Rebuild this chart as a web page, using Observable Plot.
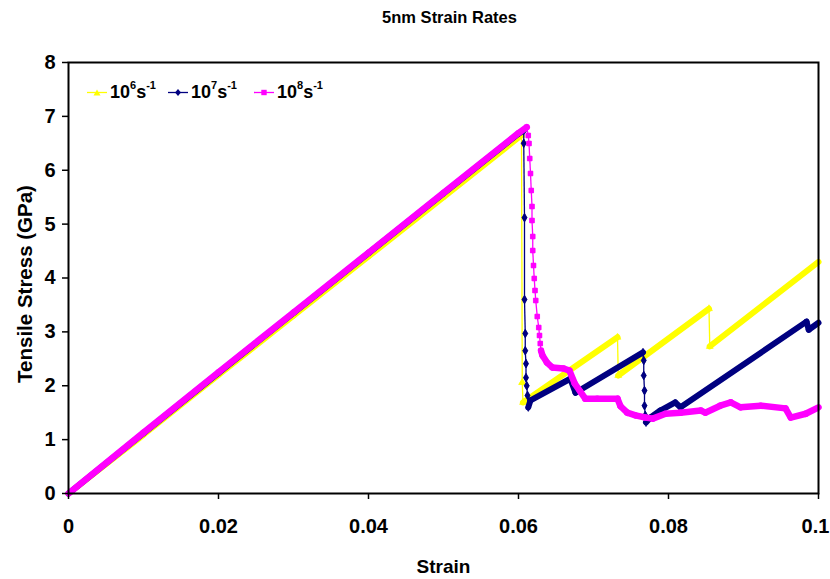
<!DOCTYPE html>
<html>
<head>
<meta charset="utf-8">
<script src="https://cdn.jsdelivr.net/npm/d3@7"></script>
<script src="https://cdn.jsdelivr.net/npm/@observablehq/plot@0.6"></script>
<style>
  body { margin: 0; background: #fff; }
  #wrap { position: relative; width: 830px; height: 579px; font-family: "Liberation Sans", Arial, sans-serif; }
  .item { position: absolute; top: 81px; height: 22px; display: flex; align-items: center; font-weight: bold; font-size: 18px; color: #000; white-space: nowrap; }
  .item svg { margin-right: 3px; }
  .item sup { font-size: 11px; position: relative; top: -2px; }
</style>
</head>
<body>
<div id="wrap"><div id="chart"></div></div>
<script>
// ---- data ----
const xTicks = [0, 0.02, 0.04, 0.06, 0.08, 0.1];
const yTicks = [0, 1, 2, 3, 4, 5, 6, 7, 8];
const seriesExponents = [6, 7, 8]; // strain rates 10^6, 10^7, 10^8 s^-1

const rate6Strain = [0, 0.01, 0.02, 0.03, 0.04, 0.05, 0.0604, 0.0605, 0.0606, 0.0732, 0.0733, 0.0854, 0.0855, 0.1];
const rate6Stress = [0, 1.09, 2.2, 3.3, 4.4, 5.5, 6.65, 2.06, 1.69, 2.9, 2.19, 3.43, 2.73, 4.3];

const rate7Strain = [0, 0.01, 0.02, 0.03, 0.04, 0.05, 0.06, 0.0607, 0.0607, 0.0608, 0.0608, 0.0609, 0.0609, 0.061, 0.061, 0.0611, 0.0612, 0.0613,
  0.0616, 0.0669, 0.0676, 0.0766, 0.0767, 0.0767, 0.0768, 0.0768, 0.0769, 0.077,
  0.0776, 0.0789, 0.0809, 0.0816, 0.0984, 0.0987, 0.1];
const rate7Stress = [0, 1.12, 2.24, 3.35, 4.46, 5.57, 6.68, 6.74, 6.5, 5.12, 3.6, 2.97, 2.65, 2.41, 2.15, 2.0, 1.82, 1.6,
  1.73, 2.13, 1.87, 2.62, 2.47, 2.19, 1.91, 1.63, 1.45, 1.32,
  1.41, 1.54, 1.69, 1.6, 3.19, 3.04, 3.17];

const rate8Strain = [0, 0.01, 0.02, 0.03, 0.04, 0.05, 0.06, 0.0611,
  0.0613, 0.0614, 0.0615, 0.0616, 0.0617, 0.0618, 0.0618, 0.0619, 0.0619, 0.062, 0.0621, 0.0622, 0.0623, 0.0625, 0.0627, 0.0628, 0.0629, 0.063,
  0.0632, 0.0638, 0.0645, 0.066, 0.0668, 0.0675, 0.0682, 0.0689, 0.0705, 0.0732, 0.0736, 0.0745, 0.0756, 0.0769, 0.0779,
  0.0796, 0.0816, 0.0843, 0.0849, 0.0869, 0.0883, 0.0896, 0.0923, 0.0956, 0.0963, 0.0983, 0.1];
const rate8Stress = [0, 1.13, 2.25, 3.36, 4.47, 5.58, 6.69, 6.8,
  6.645, 6.497, 6.218, 5.94, 5.624, 5.327, 5.067, 4.77, 4.51, 4.232, 3.991, 3.768, 3.582, 3.285, 3.081, 2.933, 2.784, 2.654,
  2.56, 2.43, 2.34, 2.32, 2.28, 2.04, 1.9, 1.76, 1.76, 1.76, 1.62, 1.5, 1.45, 1.41, 1.39,
  1.48, 1.5, 1.54, 1.5, 1.63, 1.69, 1.6, 1.63, 1.58, 1.41, 1.48, 1.6];

// ---- styles ----
const colors = ["#FFFF00", "#000080", "#FF00FF"];
const symbols = ["triangle", "diamond", "square"];
const bandWidths = [6, 6, 6.5];
const series = [
  {strain: rate6Strain, stress: rate6Stress},
  {strain: rate7Strain, stress: rate7Stress},
  {strain: rate8Strain, stress: rate8Stress}
];

const marks = [];
series.forEach((s, i) => {
  const pts = d3.zip(s.strain, s.stress);
  const segs = d3.pairs(pts).map(([a, b]) => ({
    x1: a[0], y1: a[1], x2: b[0], y2: b[1],
    fast: Math.abs(b[1] - a[1]) > 600 * Math.abs(b[0] - a[0])
  }));
  const slow = segs.filter(d => !d.fast);
  const fast = segs.filter(d => d.fast);
  marks.push(Plot.link(slow, {x1: "x1", y1: "y1", x2: "x2", y2: "y2", stroke: colors[i], strokeWidth: bandWidths[i], strokeLinecap: "round", strokeLinejoin: "round"}));
  marks.push(Plot.link(fast, {x1: "x1", y1: "y1", x2: "x2", y2: "y2", stroke: colors[i], strokeWidth: 1.3}));
  const dotPts = [];
  fast.forEach(d => { dotPts.push([d.x1, d.y1]); dotPts.push([d.x2, d.y2]); });
  marks.push(Plot.dot(dotPts, {x: d => d[0], y: d => d[1], symbol: symbols[i], r: 2.6, fill: colors[i], stroke: colors[i], strokeWidth: 0.5}));
});

const lastX = xTicks[xTicks.length - 1];

const chart = Plot.plot({
  width: 830,
  height: 579,
  marginTop: 62,
  marginRight: 12,
  marginBottom: 86,
  marginLeft: 68,
  x: {domain: [0, 0.1]},
  y: {domain: [0, 8]},
  style: {fontFamily: "'Liberation Sans', Arial, sans-serif", fontSize: "20px", fontWeight: "bold", color: "black", background: "white", overflow: "visible"},
  marks: [
    ...marks,
    Plot.frame({stroke: "black", strokeWidth: 2}),
    Plot.axisX(xTicks, {tickSize: 6, tickPadding: 19, label: null, tickFormat: d => (d === lastX ? "" : String(d)), strokeWidth: 1.5, fontSize: 20}),
    Plot.text([lastX], {x: d => d, text: d => String(d), frameAnchor: "bottom", lineAnchor: "top", textAnchor: "middle", dy: 25, dx: -3, fontSize: 20}),
    Plot.axisY(yTicks, {tickSize: 6, tickPadding: 7, label: null, tickFormat: d => String(d), strokeWidth: 1.5, fontSize: 20}),
    Plot.text(["5nm Strain Rates"], {text: d => d, frameAnchor: "top", textAnchor: "middle", lineAnchor: "middle", dx: 6, dy: -45, fontSize: 16.5}),
    Plot.text(["Tensile Stress (GPa)"], {text: d => d, frameAnchor: "left", textAnchor: "middle", lineAnchor: "middle", dx: -43, dy: 6, rotate: -90, fontSize: 20.5}),
    Plot.text(["Strain"], {text: d => d, frameAnchor: "bottom", textAnchor: "middle", lineAnchor: "middle", dy: 73, fontSize: 19})
  ]
});
document.getElementById("chart").appendChild(chart);

// ---- legend (inside plot area, top-left) ----
const legendLeft = [87, 168, 254];
const symbolSvg = [
  '<polygon points="10,2.5 13.5,8.5 6.5,8.5" fill="#FFFF00"/>',
  '<polygon points="10,2 13,5.5 10,9 7,5.5" fill="#000080"/>',
  '<rect x="7.3" y="2.8" width="5.4" height="5.4" fill="#FF00FF"/>'
];
const wrap = document.getElementById("wrap");
seriesExponents.forEach((e, i) => {
  const div = document.createElement("div");
  div.className = "item";
  div.style.left = legendLeft[i] + "px";
  div.innerHTML = `<svg width="20" height="11"><line x1="0" y1="5.5" x2="20" y2="5.5" stroke="${colors[i]}" stroke-width="1.3"/>${symbolSvg[i]}</svg><span>10<sup>${e}</sup>s<sup>-1</sup></span>`;
  wrap.appendChild(div);
});
</script>
</body>
</html>
